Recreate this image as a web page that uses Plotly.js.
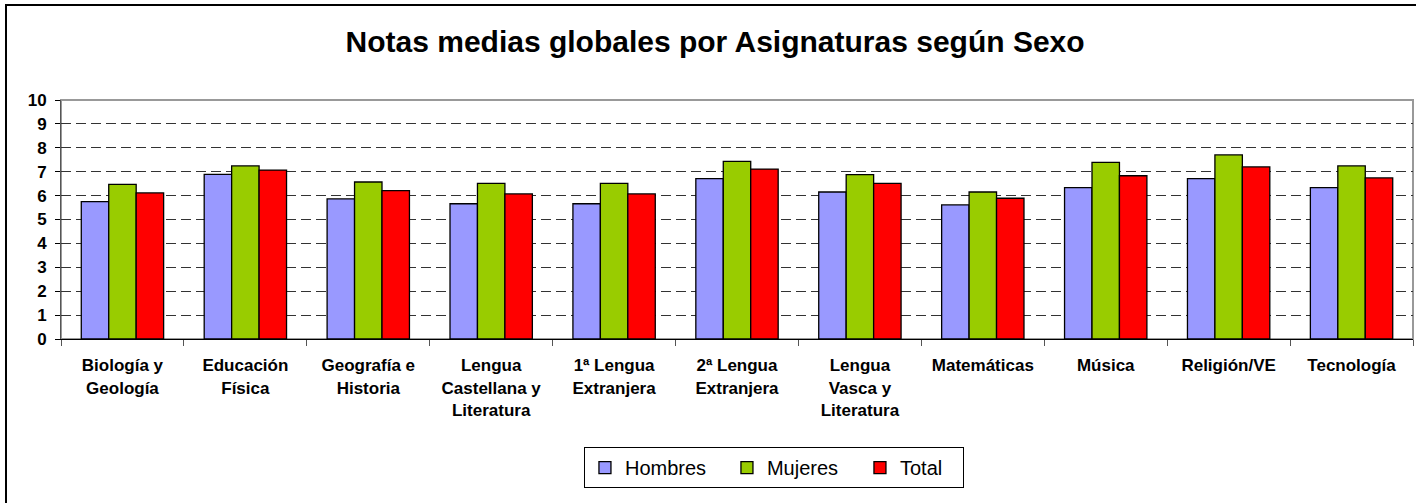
<!DOCTYPE html>
<html>
<head>
<meta charset="utf-8">
<script src="https://cdn.plot.ly/plotly-3.0.1.min.js"></script>
<style>
	body { margin:0; background:#fff; overflow:hidden; }
	#frame { position:absolute; left:5px; top:4px; width:1420px; height:510px; border:2px solid #000; }
	#notas { position:absolute; left:0; top:0; width:1416px; height:503px; }
</style>
</head>
<body>
<div id="frame"></div>
<div id="notas"></div>
<script>
var asignaturas = ['Biología y<br>Geología', 'Educación<br>Física', 'Geografía e<br>Historia',
	'Lengua<br>Castellana y<br>Literatura', '1ª Lengua<br>Extranjera', '2ª Lengua<br>Extranjera',
	'Lengua<br>Vasca y<br>Literatura', 'Matemáticas', 'Música', 'Religión/VE', 'Tecnología'];
var hombres = [5.75, 6.89, 5.86, 5.66, 5.66, 6.71, 6.15, 5.61, 6.33, 6.71, 6.33];
var mujeres = [6.47, 7.24, 6.57, 6.51, 6.51, 7.43, 6.88, 6.15, 7.39, 7.70, 7.24];
var total = [6.11, 7.07, 6.21, 6.07, 6.07, 7.11, 6.51, 5.89, 6.83, 7.20, 6.74];
var yTicks = [0, 1, 2, 3, 4, 5, 6, 7, 8, 9, 10];

function main(){
	notasChart();
}

function notasChart(){
	var font = 'Liberation Sans, Arial, sans-serif';

	// legendwidth per entry so the legend spacing follows the original
	var data = [
		makeData(asignaturas, hombres, '#9999ff', 'Hombres', 97),
		makeData(asignaturas, mujeres, '#99cc00', 'Mujeres', 88),
		makeData(asignaturas, total, '#ff0000', 'Total', 58)
	];

	var layout = {
		width:1416,
		height:503,
		margin:{l:61, r:3, t:100, b:164},
		paper_bgcolor:'rgba(0,0,0,0)',
		plot_bgcolor:'#fff',
		font:{family:font, color:'#000'},
		title:{
			text:'<b>Notas medias globales por Asignaturas según Sexo</b>',
			font:{family:font, size:30, color:'#000'},
			xref:'container', x:0.505, xanchor:'center',
			yref:'container', y:0.918, yanchor:'middle'
		},
		barmode:'group',
		bargap:0.33,
		bargroupgap:0,
		xaxis:{
			type:'category',
			tickson:'boundaries',
			ticks:'outside',
			ticklen:6,
			tickcolor:'#555',
			tickangle:0,
			ticklabelstandoff:11,
			showgrid:false,
			showline:true,
			linecolor:'#000',
			linewidth:1,
			tickfont:{family:font, size:17, color:'#000', weight:'bold'}
		},
		yaxis:{
			range:[0, 10],
			tickvals:yTicks,
			ticktext:yTicks.map(String),
			ticks:'outside',
			ticklen:5,
			tickcolor:'#000',
			ticklabelstandoff:5,
			showline:true,
			linecolor:'#555',
			linewidth:1,
			showgrid:true,
			gridcolor:'#333',
			griddash:'10px,5px',
			gridwidth:1,
			zeroline:false,
			tickfont:{family:font, size:17, color:'#000', weight:'bold'}
		},
		shapes:[{
			type:'rect', xref:'paper', yref:'paper', x0:0, x1:1, y0:0, y1:1,
			line:{color:'#999', width:2}, layer:'below'
		}],
		showlegend:true,
		legend:{
			orientation:'h',
			x:0.3868, xanchor:'left',
			y:-0.452, yanchor:'top',
			bgcolor:'#fff',
			bordercolor:'#000',
			borderwidth:1,
			font:{family:font, size:20, color:'#000'}
		}
	};

	Plotly.newPlot('notas', data, layout, {
		displayModeBar:false,
		staticPlot:true
	});
}

function makeData(x, y, color, name, legendWidth){
	return {
		x: x,
		y: y,
		type: 'bar',
		name: name,
		legendwidth: legendWidth,
		marker: {
			color: color,
			line: {color: '#000', width: 1.3}
		}
	};
}

main();
</script>
</body>
</html>
